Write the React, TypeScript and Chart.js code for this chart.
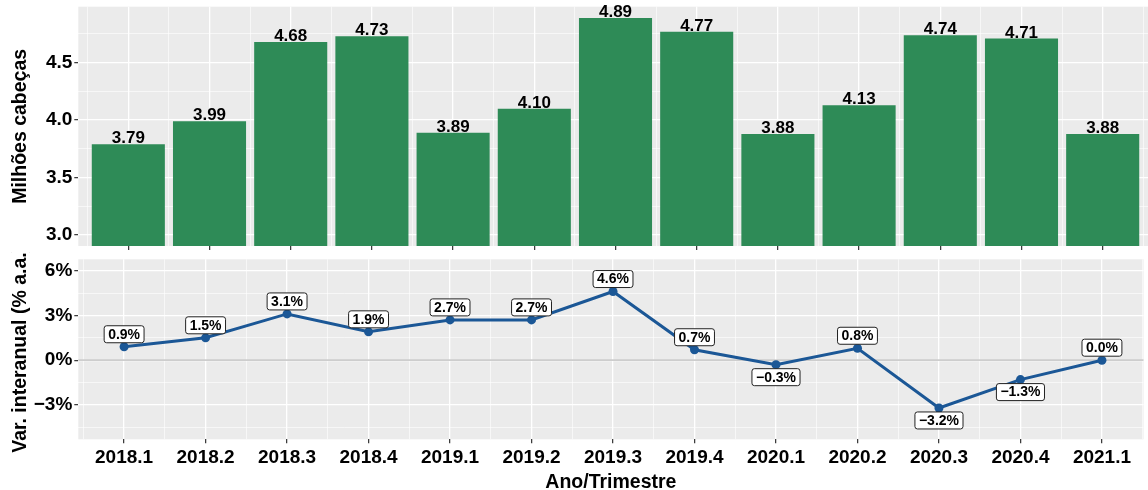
import React, { useEffect, useRef } from 'react';
import { Chart, registerables } from 'chart.js';

Chart.register(...registerables);

const categories = ['2018.1', '2018.2', '2018.3', '2018.4', '2019.1', '2019.2', '2019.3', '2019.4', '2020.1', '2020.2', '2020.3', '2020.4', '2021.1'];
const headcount = [3.79, 3.99, 4.68, 4.73, 3.89, 4.1, 4.89, 4.77, 3.88, 4.13, 4.74, 4.71, 3.88];
const yoyChange = [0.9, 1.5, 3.1, 1.9, 2.7, 2.7, 4.6, 0.7, -0.3, 0.8, -3.2, -1.3, 0.0];
const topMajorTicks = [3.0, 3.5, 4.0, 4.5];
const topMinorTicks = [3.25, 3.75, 4.25, 4.75];
const bottomMajorTicks = [-3, 0, 3, 6];
const bottomMinorTicks = [-4.5, -1.5, 1.5, 4.5];
const topYTitle = 'Milhões cabeças';
const bottomYTitle = 'Var. interanual (% a.a.)';
const xTitle = 'Ano/Trimestre';

const FONT = "'Liberation Sans', Arial, Helvetica, sans-serif";
const BAR_COLOR = '#2E8B57';
const LINE_COLOR = '#1B5796';
const PANEL_BG = '#EBEBEB';

const near = (a: number, b: number) => Math.abs(a - b) < 1e-6;
const isIn = (arr: number[], v: number) => arr.some((a) => near(a, v));
const fmtSigned = (v: number, d: number) => (v < 0 ? '\u2212' : '') + Math.abs(v).toFixed(d);

const xPositions = categories.map((_, i) => i + 1);
const xMinor = [...xPositions.map((p) => p - 0.5), xPositions.length + 0.5];
const xAllTicks = [...xMinor, ...xPositions].sort((a, b) => a - b);

const gridColor = () => '#FFFFFF';
const gridWidth = (major: number[]) => (ctx: any) =>
  ctx.tick && isIn(major, ctx.tick.value) ? 1.3 : 0.6;
const tickColor = (major: number[]) => (ctx: any) =>
  ctx.tick && isIn(major, ctx.tick.value) ? '#333333' : 'rgba(0,0,0,0)';

const panelBg = {
  id: 'panelBg',
  beforeDraw(chart: any) {
    const { ctx, chartArea: a } = chart;
    ctx.save();
    ctx.fillStyle = PANEL_BG;
    ctx.fillRect(a.left, a.top, a.right - a.left, a.bottom - a.top);
    ctx.restore();
  },
};

const yTitlePlugin = (text: string) => ({
  id: 'yTitle',
  afterDraw(chart: any) {
    const { ctx, chartArea: a } = chart;
    ctx.save();
    ctx.translate(25.5, (a.top + a.bottom) / 2);
    ctx.rotate(-Math.PI / 2);
    ctx.font = `bold 19.5px ${FONT}`;
    ctx.fillStyle = '#000';
    ctx.textAlign = 'center';
    ctx.textBaseline = 'alphabetic';
    ctx.fillText(text, 0, 0);
    ctx.restore();
  },
});

const xScaleBase = (min: number, max: number, height: number, showLabels: boolean) => ({
  type: 'linear' as const,
  min,
  max,
  offset: false,
  border: { display: false },
  grid: {
    offset: false,
    color: gridColor,
    lineWidth: gridWidth(xPositions),
    drawTicks: true,
    tickLength: 4,
    tickColor: tickColor(xPositions),
    tickWidth: 1.2,
  },
  afterBuildTicks: (scale: any) => {
    scale.ticks = xAllTicks.map((v) => ({ value: v }));
  },
  afterFit: (scale: any) => {
    scale.height = height;
    scale.paddingLeft = 0;
    scale.paddingRight = 0;
  },
  ticks: {
    autoSkip: false,
    maxRotation: 0,
    minRotation: 0,
    padding: 3,
    color: '#000',
    font: { family: FONT, size: 19, weight: 'bold' as const },
    callback: (value: any) => {
      const v = Number(value);
      if (!showLabels || !isIn(xPositions, v)) return '';
      return categories[Math.round(v) - 1];
    },
  },
});

const yScaleBase = (min: number, max: number, major: number[], minor: number[], fmt: (v: number) => string) => ({
  type: 'linear' as const,
  min,
  max,
  beginAtZero: false,
  border: { display: false },
  grid: {
    color: gridColor,
    lineWidth: gridWidth(major),
    drawTicks: true,
    tickLength: 4,
    tickColor: tickColor(major),
    tickWidth: 1.2,
  },
  afterBuildTicks: (scale: any) => {
    scale.ticks = [...major, ...minor].sort((a, b) => a - b).map((v) => ({ value: v }));
  },
  afterFit: (scale: any) => {
    scale.width = 78.3;
    scale.paddingTop = 0;
    scale.paddingBottom = 0;
  },
  ticks: {
    autoSkip: false,
    padding: 2,
    color: '#000',
    font: { family: FONT, size: 19, weight: 'bold' as const },
    callback: (value: any) => {
      const v = Number(value);
      return isIn(major, v) ? fmt(v) : '';
    },
  },
});

const barLabels = {
  id: 'barLabels',
  afterDatasetsDraw(chart: any) {
    const { ctx } = chart;
    const meta = chart.getDatasetMeta(0);
    ctx.save();
    ctx.font = `bold 17px ${FONT}`;
    ctx.fillStyle = '#000';
    ctx.textAlign = 'center';
    ctx.textBaseline = 'alphabetic';
    meta.data.forEach((bar: any, i: number) => {
      ctx.fillText(headcount[i].toFixed(2), bar.x, bar.y - 1);
    });
    ctx.restore();
  },
};

const zeroLine = {
  id: 'zeroLine',
  beforeDatasetsDraw(chart: any) {
    const { ctx, chartArea: a, scales } = chart;
    const y = scales.y.getPixelForValue(0);
    ctx.save();
    ctx.strokeStyle = '#CDCDCD';
    ctx.lineWidth = 1.8;
    ctx.beginPath();
    ctx.moveTo(a.left, y);
    ctx.lineTo(a.right, y);
    ctx.stroke();
    ctx.restore();
  },
};

const pointLabels = {
  id: 'pointLabels',
  afterDatasetsDraw(chart: any) {
    const { ctx } = chart;
    const meta = chart.getDatasetMeta(0);
    ctx.save();
    ctx.font = `bold 14px ${FONT}`;
    ctx.textAlign = 'center';
    ctx.textBaseline = 'middle';
    meta.data.forEach((pt: any, i: number) => {
      const v = yoyChange[i];
      const text = fmtSigned(v, 1) + '%';
      const w = ctx.measureText(text).width + 8;
      const h = 17;
      const cy = pt.y + (v < 0 ? 12.5 : -12.5);
      const x0 = pt.x - w / 2;
      const y0 = cy - h / 2;
      ctx.beginPath();
      ctx.roundRect(x0, y0, w, h, 2.5);
      ctx.fillStyle = '#FFFFFF';
      ctx.fill();
      ctx.lineWidth = 1;
      ctx.strokeStyle = '#222222';
      ctx.stroke();
      ctx.fillStyle = '#000';
      ctx.fillText(text, pt.x, cy + 0.5);
    });
    ctx.restore();
  },
};

const xTitlePlugin = {
  id: 'xTitle',
  afterDraw(chart: any) {
    const { ctx, chartArea: a } = chart;
    ctx.save();
    ctx.font = `bold 19.5px ${FONT}`;
    ctx.fillStyle = '#000';
    ctx.textAlign = 'center';
    ctx.textBaseline = 'alphabetic';
    ctx.fillText(xTitle, (a.left + a.right) / 2, 235.5);
    ctx.restore();
  },
};

export default function App() {
  const topRef = useRef<HTMLCanvasElement | null>(null);
  const bottomRef = useRef<HTMLCanvasElement | null>(null);

  useEffect(() => {
    const top = new Chart(topRef.current as HTMLCanvasElement, {
      type: 'bar',
      data: {
        datasets: [
          {
            data: headcount.map((v, i) => ({ x: xPositions[i], y: v })),
            backgroundColor: BAR_COLOR,
            borderWidth: 0,
            // ticks are spaced every half category, so 1.8 x half-step = 0.9 of a category
            barPercentage: 1.8,
            categoryPercentage: 1,
          },
        ],
      },
      options: {
        animation: false,
        responsive: false,
        maintainAspectRatio: false,
        devicePixelRatio: 1,
        layout: { padding: { top: 6.7, left: 0, right: 0, bottom: 0 } },
        plugins: { legend: { display: false }, tooltip: { enabled: false } },
        scales: {
          x: xScaleBase(0.384, 13.558, 6, false) as any,
          y: yScaleBase(2.904, 4.9875, topMajorTicks, topMinorTicks, (v) => v.toFixed(1)) as any,
        },
      },
      plugins: [panelBg, barLabels, yTitlePlugin(topYTitle)],
    });

    const bottom = new Chart(bottomRef.current as HTMLCanvasElement, {
      type: 'line',
      data: {
        datasets: [
          {
            data: yoyChange.map((v, i) => ({ x: xPositions[i], y: v })),
            borderColor: LINE_COLOR,
            backgroundColor: LINE_COLOR,
            borderWidth: 3,
            pointRadius: 4.5,
            pointBorderWidth: 0,
            pointBackgroundColor: LINE_COLOR,
            tension: 0,
            fill: false,
          },
        ],
      },
      options: {
        animation: false,
        responsive: false,
        maintainAspectRatio: false,
        devicePixelRatio: 1,
        layout: { padding: { top: 7.3, left: 0, right: 0, bottom: 0 } },
        plugins: { legend: { display: false }, tooltip: { enabled: false } },
        scales: {
          x: xScaleBase(0.438, 13.51, 50.7, true) as any,
          y: yScaleBase(-5.3, 6.76, bottomMajorTicks, bottomMinorTicks, (v) => fmtSigned(v, 0) + '%') as any,
        },
      },
      plugins: [panelBg, zeroLine, pointLabels, yTitlePlugin(bottomYTitle), xTitlePlugin],
    });

    return () => {
      top.destroy();
      bottom.destroy();
    };
  }, []);

  return (
    <div style={{ position: 'absolute', left: 0, top: 0, width: 1148, height: 490, background: '#fff', overflow: 'hidden' }}>
      <canvas ref={topRef} width={1148} height={252} style={{ display: 'block', width: 1148, height: 252 }} />
      <canvas ref={bottomRef} width={1148} height={238} style={{ display: 'block', width: 1148, height: 238 }} />
    </div>
  );
}
